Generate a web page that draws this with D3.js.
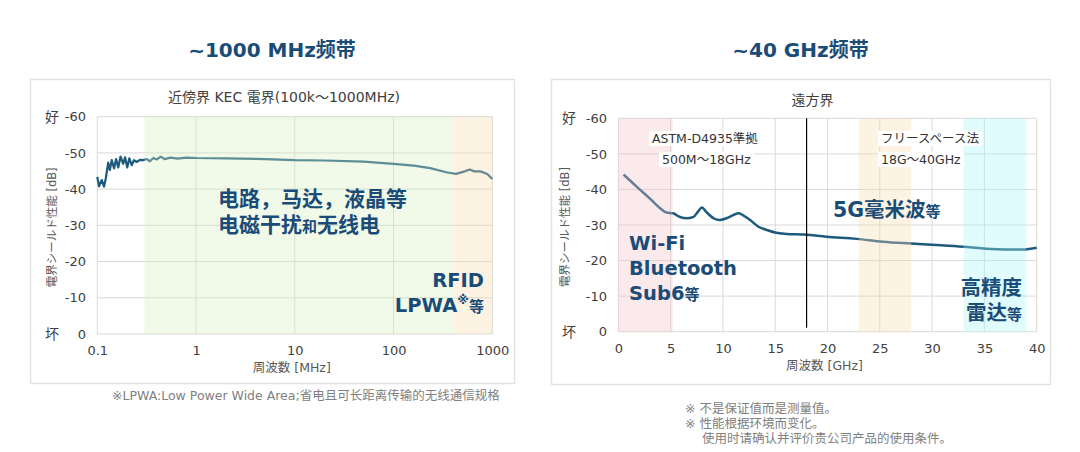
<!DOCTYPE html>
<html>
<head>
<meta charset="utf-8">
<script src="https://cdn.jsdelivr.net/npm/d3@7"></script>
<style>
  body { margin: 0; background: #fff; }
  svg text { font-family: "DejaVu Sans", "Noto Sans CJK JP", sans-serif; }
</style>
</head>
<body>
<svg id="chart" width="1080" height="452"></svg>
<script>
// near field (MHz, log) measured curve
var nearFreq = [0.1, 0.104, 0.111, 0.117, 0.122, 0.129, 0.134, 0.140, 0.148, 0.155, 0.163, 0.172, 0.183, 0.191,
    0.201, 0.211, 0.223, 0.235, 0.250, 0.270, 0.292, 0.316, 0.34, 0.37, 0.40, 0.44, 0.48, 0.55, 0.65, 0.8,
    1.0, 2, 5, 10, 20, 50, 100, 160, 235, 350, 430, 525, 590, 660, 760, 890, 1000];
var nearDb = [-43.4, -40.8, -42.5, -40.7, -43, -47.3, -45.3, -48, -45.7, -48.3, -46, -49, -47, -48.8,
    -46, -48.5, -46.6, -48, -47.5, -48.1, -48, -48.3, -47.7, -48.6, -48.2, -49.0, -48.3, -48.7, -48.4, -48.7,
    -48.6, -48.5, -48.3, -48.0, -47.9, -47.6, -47.0, -46.5, -45.8, -44.6, -44.2, -44.9, -45.4, -44.9, -44.9, -44.2, -42.8];

// far field (GHz, linear) measured curve
var farFreq = [0.5, 1.75, 3.0, 4.0, 4.6, 5.25, 5.7, 6.5, 7.2, 7.6, 8.0, 8.4, 9.1, 9.7, 10.35, 11.0, 11.5, 11.9,
    12.6, 13.4, 14.2, 15.1, 16.1, 17.8, 19.9, 22.8, 25.3, 28, 30.4, 33, 34.9, 37.4, 38.7, 40];
var farDb = [-44.2, -40.8, -37.5, -34.7, -33.5, -33.3, -32.5, -31.9, -32.3, -33.7, -34.9, -33.7, -31.9, -31.4,
    -31.9, -32.8, -33.3, -32.8, -31.4, -29.5, -28.6, -27.8, -27.5, -27.3, -26.7, -26.1, -25.3, -24.8, -24.4,
    -23.9, -23.4, -23.1, -23.1, -23.6];

var dbTicks = [0, -10, -20, -30, -40, -50, -60];
var nearTicks = [0.1, 1, 10, 100, 1000];
var nearTickLabels = ["0.1", "1", "10", "100", "1000"];
var farTicks = [0, 5, 10, 15, 20, 25, 30, 35, 40];

var nearBands = [[0.3, 400], [400, 1000]];
var farBands = [[0, 5.2], [23, 28], [33, 39]];
var farDivider = 18;

var svg = d3.select("#chart");
var gridColor = "#d9d9d9";
var tickColor = "#404040";
var accent = "#1a4c77";
var lineColor = "#1d5a7e";

function panelFrame(x0, x1, y0, y1, title, subtitle, subtitleY) {
    svg.append("rect").attr("x", x0 + 0.5).attr("y", y0 + 0.5).attr("width", x1 - x0).attr("height", y1 - y0)
        .attr("fill", "#fff").attr("stroke", "#e3e3e3").attr("stroke-width", 1.5);
    svg.append("text").attr("x", (x0 + x1) / 2).attr("y", 57).attr("text-anchor", "middle")
        .attr("font-size", 20).attr("font-weight", "bold").attr("fill", accent).text(title);
    svg.append("text").attr("x", (x0 + x1) / 2 + 12).attr("y", subtitleY).attr("text-anchor", "middle")
        .attr("font-size", 14).attr("fill", tickColor).text(subtitle);
}

function grid(g, x, y, xt) {
    g.selectAll(".gy").data(dbTicks).join("line")
        .attr("x1", x.range()[0]).attr("x2", x.range()[1])
        .attr("y1", d => y(d)).attr("y2", d => y(d))
        .attr("stroke", gridColor);
    g.selectAll(".gx").data(xt).join("line").attr("class", "gx")
        .attr("x1", d => x(d)).attr("x2", d => x(d))
        .attr("y1", y.range()[0]).attr("y2", y.range()[1])
        .attr("stroke", gridColor);
}

function yAxis(x, y, labelX, goodX, titleX) {
    var ax = svg.append("g").attr("transform", "translate(" + labelX + ",0)")
        .call(d3.axisLeft(y).tickValues(dbTicks).tickFormat(d => String(d)).tickSize(0).tickPadding(0));
    ax.select(".domain").remove();
    ax.selectAll("text").attr("font-size", 13).attr("fill", tickColor)
        .style("font-family", "'DejaVu Sans', sans-serif");
    svg.append("text").attr("x", goodX).attr("y", y(-60) + 5).attr("text-anchor", "middle")
        .attr("font-size", 14).attr("fill", tickColor).text("好");
    svg.append("text").attr("x", goodX).attr("y", y(0) + 5).attr("text-anchor", "middle")
        .attr("font-size", 14).attr("fill", tickColor).text("坏");
    var cy = (y.range()[0] + y.range()[1]) / 2 + 2;
    svg.append("text").attr("transform", "translate(" + titleX + "," + cy + ") rotate(-90)")
        .attr("text-anchor", "middle").attr("font-size", 11.5).attr("fill", "#595959")
        .text("電界シールド性能 [dB]");
}

function xAxis(x, y, ticks, fmt, title, labelY) {
    var ax = svg.append("g").attr("transform", "translate(0," + labelY + ")")
        .call(d3.axisBottom(x).tickValues(ticks).tickFormat(fmt).tickSize(0).tickPadding(0));
    ax.select(".domain").remove();
    ax.selectAll("text").attr("font-size", 13).attr("fill", tickColor)
        .style("font-family", "'DejaVu Sans', sans-serif");
    var cx = (x.range()[0] + x.range()[1]) / 2 - 3;
    svg.append("text").attr("x", cx).attr("y", labelY + 26).attr("text-anchor", "middle")
        .attr("font-size", 12.5).attr("fill", "#595959").text(title);
}

function drawNearField() {
    panelFrame(30, 514, 79, 383, "~1000 MHz频带", "近傍界 KEC 電界(100k～1000MHz)", 102);
    var x = d3.scaleLog().domain([0.1, 1000]).range([97.3, 492.3]);
    var y = d3.scaleLinear().domain([0, -60]).range([334, 116.7]);
    var g = svg.append("g");
    grid(g, x, y, nearTicks);

    var pts = nearFreq.map((f, i) => [f, nearDb[i]]);
    g.append("path").datum(pts)
        .attr("d", d3.line().x(d => x(d[0])).y(d => y(d[1])))
        .attr("fill", "none").attr("stroke", lineColor).attr("stroke-width", 2.2)
        .attr("stroke-linejoin", "round");

    var bandFill = ["#d7eec0", "#f9ddaf"];
    g.selectAll(".band").data(nearBands).join("rect")
        .attr("x", d => x(d[0])).attr("width", d => x(d[1]) - x(d[0]))
        .attr("y", y(-60)).attr("height", y(0) - y(-60))
        .attr("fill", (d, i) => bandFill[i]).attr("fill-opacity", 0.35);

    yAxis(x, y, 86, 52, 56);
    xAxis(x, y, nearTicks, (d, i) => nearTickLabels[i], "周波数 [MHz]", 346);

    var t1 = svg.append("text").attr("x", 218).attr("y", 206).attr("font-size", 21)
        .attr("font-weight", "bold").attr("fill", accent).text("电路，马达，液晶等");
    var t2 = svg.append("text").attr("x", 218).attr("y", 232).attr("font-size", 21)
        .attr("font-weight", "bold").attr("fill", accent);
    t2.append("tspan").text("电磁干扰");
    t2.append("tspan").attr("font-size", 15).text("和");
    t2.append("tspan").text("无线电");

    svg.append("text").attr("x", 484).attr("y", 287).attr("text-anchor", "end").attr("font-size", 19.5)
        .attr("font-weight", "bold").attr("fill", accent).text("RFID");
    var t3 = svg.append("text").attr("x", 484).attr("y", 312).attr("text-anchor", "end").attr("font-size", 19.5)
        .attr("font-weight", "bold").attr("fill", accent);
    t3.append("tspan").text("LPWA");
    t3.append("tspan").attr("font-size", 12).attr("dy", -8).text("※");
    t3.append("tspan").attr("font-size", 15).attr("dy", 8).text("等");

    svg.append("text").attr("x", 112).attr("y", 400).attr("font-size", 12.5).attr("fill", "#808080")
        .text("※LPWA:Low Power Wide Area;省电且可长距离传输的无线通信规格");
}

function labelBox(x0, y0, txt) {
    var t = svg.append("text").attr("x", x0).attr("y", y0).attr("font-size", 12.5).attr("fill", "#333")
        .text(txt);
    var b = t.node().getBBox();
    svg.insert("rect", function () { return t.node(); })
        .attr("x", b.x - 3).attr("y", b.y).attr("width", b.width + 6).attr("height", b.height)
        .attr("fill", "#fff");
}

function drawFarField() {
    panelFrame(551, 1050, 79, 384, "~40 GHz频带", "遠方界", 105);
    var x = d3.scaleLinear().domain([0, 40]).range([618.3, 1036.7]);
    var y = d3.scaleLinear().domain([0, -60]).range([331.7, 118.3]);
    var g = svg.append("g");
    grid(g, x, y, farTicks);

    var pts = farFreq.map((f, i) => [f, farDb[i]]);
    g.append("path").datum(pts)
        .attr("d", d3.line().curve(d3.curveMonotoneX).x(d => x(d[0])).y(d => y(d[1])))
        .attr("fill", "none").attr("stroke", lineColor).attr("stroke-width", 2.5);

    var bandFill = ["#f4c3c9", "#f9ddaf", "#a6f6f6"];
    g.selectAll(".band").data(farBands).join("rect")
        .attr("x", d => x(d[0])).attr("width", d => x(d[1]) - x(d[0]))
        .attr("y", y(-60)).attr("height", y(0) - y(-60))
        .attr("fill", (d, i) => bandFill[i]).attr("fill-opacity", 0.35);

    g.append("line").attr("x1", x(farDivider)).attr("x2", x(farDivider))
        .attr("y1", y(-60)).attr("y2", y(0) - 4)
        .attr("stroke", "#000").attr("stroke-width", 1.2);

    yAxis(x, y, 607, 569, 569);
    xAxis(x, y, farTicks, d3.format("d"), "周波数 [GHz]", 344);

    labelBox(652, 143, "ASTM-D4935準拠");
    labelBox(662, 164, "500M～18GHz");
    labelBox(881, 143, "フリースペース法");
    labelBox(881, 164, "18G～40GHz");

    var t = svg.append("text").attr("x", 833).attr("y", 217).attr("font-size", 20.5)
        .attr("font-weight", "bold").attr("fill", accent);
    t.append("tspan").text("5G毫米波");
    t.append("tspan").attr("font-size", 15).text("等");

    svg.append("text").attr("x", 629).attr("y", 250).attr("font-size", 19.5)
        .attr("font-weight", "bold").attr("fill", accent).text("Wi-Fi");
    svg.append("text").attr("x", 629).attr("y", 275).attr("font-size", 19.5)
        .attr("font-weight", "bold").attr("fill", accent).text("Bluetooth");
    var s = svg.append("text").attr("x", 629).attr("y", 300).attr("font-size", 19.5)
        .attr("font-weight", "bold").attr("fill", accent);
    s.append("tspan").text("Sub6");
    s.append("tspan").attr("font-size", 15).text("等");

    svg.append("text").attr("x", 1022).attr("y", 295).attr("text-anchor", "end").attr("font-size", 20.5)
        .attr("font-weight", "bold").attr("fill", accent).text("高精度");
    var r = svg.append("text").attr("x", 1022).attr("y", 320).attr("text-anchor", "end").attr("font-size", 20.5)
        .attr("font-weight", "bold").attr("fill", accent);
    r.append("tspan").text("雷达");
    r.append("tspan").attr("font-size", 15).text("等");

    var notes = [["※ 不是保证值而是测量值。", 685], ["※ 性能根据环境而变化。", 685], ["使用时请确认并评价贵公司产品的使用条件。", 702]];
    notes.forEach(function (n, i) {
        svg.append("text").attr("x", n[1]).attr("y", 413 + i * 15).attr("font-size", 12.5)
            .attr("fill", "#808080").text(n[0]);
    });
}

drawNearField();
drawFarField();
</script>
</body>
</html>
